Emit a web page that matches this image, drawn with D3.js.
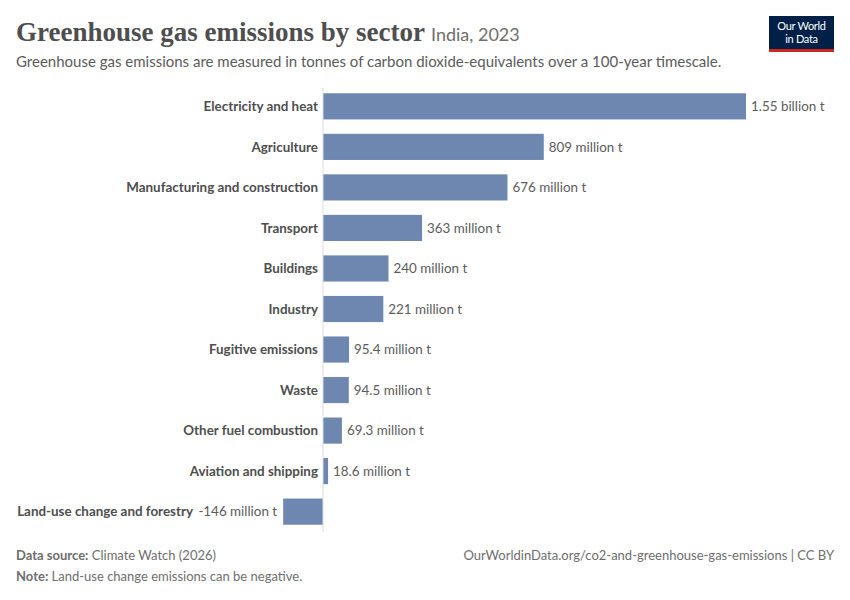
<!DOCTYPE html>
<html>
<head>
<meta charset="utf-8">
<script src="https://cdn.jsdelivr.net/npm/d3@7"></script>
<style>
  body { margin: 0; background: #fff; }
  text { font-family: Lato, "Noto Sans", sans-serif; }
</style>
</head>
<body>
<div id="chart-area"></div>
<script>
var sectors = [
  "Electricity and heat", "Agriculture", "Manufacturing and construction",
  "Transport", "Buildings", "Industry", "Fugitive emissions", "Waste",
  "Other fuel combustion", "Aviation and shipping", "Land-use change and forestry"
];
var emissions = [1550, 809, 676, 363, 240, 221, 95.4, 94.5, 69.3, 18.6, -146];
var valueLabels = [
  "1.55 billion t", "809 million t", "676 million t", "363 million t",
  "240 million t", "221 million t", "95.4 million t", "94.5 million t",
  "69.3 million t", "18.6 million t", "-146 million t"
];

var data = sectors.map(function(s, i) {
  return { name: s, value: emissions[i], label: valueLabels[i] };
});

var W = 850, H = 600;
var svg = d3.select("#chart-area")
  .append("svg")
  .attr("width", W)
  .attr("height", H);

// header
svg.append("text")
  .attr("x", 16).attr("y", 41)
  .style("font-family", "'Liberation Serif', 'DejaVu Serif', serif")
  .style("font-size", "27px")
  .style("font-weight", "bold")
  .attr("fill", "#4e4e4e")
  .text("Greenhouse gas emissions by sector")
  .append("tspan")
  .style("font-family", "Lato, sans-serif")
  .style("font-weight", "normal")
  .style("font-size", "18px")
  .attr("fill", "#6e6e6e")
  .attr("dx", 6)
  .text("India, 2023");

svg.append("text")
  .attr("x", 16).attr("y", 67)
  .style("font-size", "15px")
  .attr("fill", "#5b5b5b")
  .text("Greenhouse gas emissions are measured in tonnes of carbon dioxide-equivalents over a 100-year timescale.");

// logo
var logo = svg.append("g").attr("transform", "translate(769,16)");
logo.append("rect").attr("width", 65).attr("height", 36).attr("fill", "#002147");
logo.append("rect").attr("y", 33).attr("width", 65).attr("height", 3).attr("fill", "#ce261e");
logo.append("text").attr("x", 32.5).attr("y", 14).attr("text-anchor", "middle")
  .attr("fill", "#fff").style("font-size", "11px").style("letter-spacing", "-0.3px").text("Our World");
logo.append("text").attr("x", 32.5).attr("y", 27).attr("text-anchor", "middle")
  .attr("fill", "#fff").style("font-size", "11px").style("letter-spacing", "-0.3px").text("in Data");

// chart
var x = d3.scaleLinear()
  .domain([0, 1550])
  .range([323, 746]);

var y = d3.scaleBand()
  .domain(sectors)
  .range([86, 532])
  .paddingInner(0.355)
  .paddingOuter(0.18);

var g = svg.append("g");

g.selectAll("rect.bar")
  .data(data)
  .enter()
  .append("rect")
  .attr("class", "bar")
  .attr("x", function(d) { return x(Math.min(0, d.value)); })
  .attr("y", function(d) { return y(d.name); })
  .attr("width", function(d) { return Math.abs(x(d.value) - x(0)); })
  .attr("height", y.bandwidth())
  .attr("fill", "#6d87b1");

g.append("line")
  .attr("x1", x(0)).attr("x2", x(0))
  .attr("y1", 88).attr("y2", 532)
  .attr("stroke", "#dcdcdc")
  .attr("stroke-width", 1);

// value labels
g.selectAll("text.value")
  .data(data)
  .enter()
  .append("text")
  .attr("class", "value")
  .attr("x", function(d) { return d.value >= 0 ? x(d.value) + 5 : x(d.value) - 6; })
  .attr("y", function(d) { return y(d.name) + y.bandwidth() / 2; })
  .attr("dy", "0.35em")
  .attr("text-anchor", function(d) { return d.value >= 0 ? "start" : "end"; })
  .attr("fill", "#5b5b5b")
  .style("font-size", "13.4px")
  .text(function(d) { return d.label; });

// category labels
g.selectAll("text.cat")
  .data(data)
  .enter()
  .append("text")
  .attr("class", "cat")
  .attr("x", function(d) { return d.value >= 0 ? x(0) - 5 : 193; })
  .attr("y", function(d) { return y(d.name) + y.bandwidth() / 2; })
  .attr("dy", "0.35em")
  .attr("text-anchor", "end")
  .attr("fill", "#4e4e4e")
  .style("font-size", "13.4px")
  .style("font-weight", "bold")
  .text(function(d) { return d.name; });

// footer
var foot = svg.append("g").style("font-size", "13px").attr("fill", "#6e6e6e");
foot.append("text").attr("x", 16).attr("y", 560)
  .html('<tspan font-weight="bold">Data source:</tspan> Climate Watch (2026)');
foot.append("text").attr("x", 16).attr("y", 581)
  .html('<tspan font-weight="bold">Note:</tspan> Land-use change emissions can be negative.');
foot.append("text").attr("x", 834).attr("y", 560).attr("text-anchor", "end")
  .text("OurWorldinData.org/co2-and-greenhouse-gas-emissions | CC BY");
</script>
</body>
</html>
